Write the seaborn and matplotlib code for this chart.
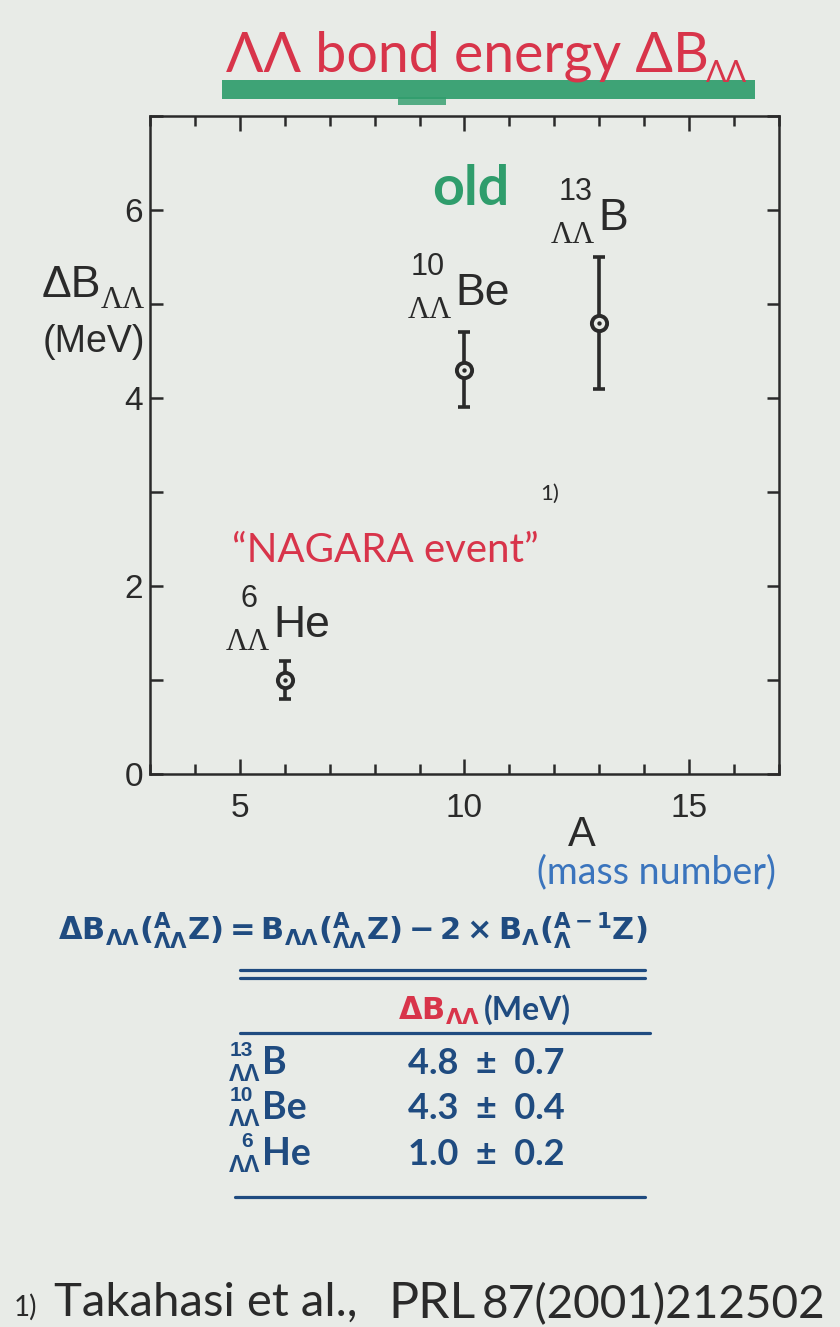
import matplotlib
matplotlib.use("Agg")
import numpy as np
import pandas as pd
import matplotlib.pyplot as plt
import seaborn as sns
from matplotlib.ticker import MultipleLocator
from matplotlib.lines import Line2D
from matplotlib.patches import Rectangle

# Double-Lambda hypernuclei: mass number, bond energy and its error (MeV)
nuclides = ["He", "Be", "B"]
mass_numbers = [6, 10, 13]
bond_energy = [1.0, 4.3, 4.8]
bond_error = [0.2, 0.4, 0.7]

x_ticks = [5, 10, 15]
y_ticks = [0, 2, 4, 6]

W, H = 840, 1327
PAPER = "#e8ebe7"
INK = "#2a2a2a"
RED = "#d8344a"
GREEN = "#2f9d6c"
NAVY = "#1f4b80"
BLUE = "#3a74bd"

sns.set_theme(style="ticks")
plt.rcParams["font.family"] = ["Liberation Sans", "DejaVu Sans"]
plt.rcParams["mathtext.fontset"] = "dejavusans"
plt.rcParams["mathtext.default"] = "bf"

HAND = ["Lato", "DejaVu Sans"]
SERIF = ["Liberation Serif", "DejaVu Serif"]

fig = plt.figure(figsize=(W / 100, H / 100), dpi=100, facecolor=PAPER)


def put(x, y, s, **kw):
    kw.setdefault("va", "baseline")
    kw.setdefault("ha", "left")
    return fig.text(x / W, 1 - y / H, s, **kw)


def hline(x0, x1, y, lw=2.3):
    fig.add_artist(Line2D([x0 / W, x1 / W], [1 - y / H, 1 - y / H],
                          transform=fig.transFigure, color=NAVY, lw=lw,
                          solid_capstyle="round"))


# ---- main axes ----
ax = fig.add_axes([150 / W, 1 - 774 / H, (779 - 150) / W, (774 - 116) / H])
ax.set_facecolor(PAPER)

df = pd.DataFrame({"A": mass_numbers, "dB": bond_energy, "err": bond_error,
                   "name": nuclides})

ax.errorbar(df["A"], df["dB"], yerr=df["err"], fmt="none", ecolor=INK,
            elinewidth=2.6, capsize=4.5, capthick=2.6, zorder=2)
sns.scatterplot(data=df, x="A", y="dB", ax=ax, marker="o", s=120,
                color=PAPER, edgecolor=INK, linewidth=2.8, zorder=3,
                legend=False)
sns.scatterplot(data=df, x="A", y="dB", ax=ax, marker="o", s=10,
                color=INK, linewidth=0, zorder=4, legend=False)

ax.set_xlim(3, 17)
ax.set_ylim(0, 7)
ax.set_xlabel("")
ax.set_ylabel("")
ax.set_xticks(x_ticks)
ax.set_yticks(y_ticks)
ax.xaxis.set_minor_locator(MultipleLocator(1))
ax.yaxis.set_minor_locator(MultipleLocator(1))
ax.tick_params(which="both", direction="in", top=True, right=True,
               width=1.8, color=INK, labelsize=24, labelcolor=INK)
ax.tick_params(axis="x", which="major", length=11, pad=14)
ax.tick_params(axis="x", which="minor", length=7)
ax.tick_params(axis="y", which="both", length=9, pad=5)
for sp in ax.spines.values():
    sp.set_linewidth(1.8)
    sp.set_color(INK)

# axis titles
put(42, 297, "ΔB", fontsize=32, color=INK)
put(101, 308, "ΛΛ", fontsize=22, color=INK, family=SERIF)
put(43, 352, "(MeV)", fontsize=27, color=INK)
put(582, 846, "A", fontsize=30, color=INK, ha="center")
put(537, 883, "(mass number)", fontsize=27, color=BLUE, family=HAND)

# nuclide labels next to each point: (superscript x, symbol x, baseline y)
label_pos = {"He": (258, 273, 637), "Be": (445, 455, 305), "B": (593, 598, 230)}
for name, a in zip(nuclides, mass_numbers):
    sx, mx, by = label_pos[name]
    put(sx, by - 30, str(a), fontsize=22, color=INK, ha="right")
    put(mx - 3, by + 13, "ΛΛ", fontsize=22, color=INK, family=SERIF, ha="right")
    put(mx, by, name, fontsize=32, color=INK)

# hand-written annotations
put(226, 72, "ΛΛ bond energy ΔB", fontsize=40, color=RED, family=HAND)
put(706, 82, "ΛΛ", fontsize=22, color=RED, family=HAND)
fig.add_artist(Rectangle((222 / W, 1 - 99 / H), (755 - 222) / W, 19 / H,
                         transform=fig.transFigure, color=GREEN, alpha=0.92,
                         lw=0))
fig.add_artist(Rectangle((398 / W, 1 - 105 / H), 48 / W, 8 / H,
                         transform=fig.transFigure, color=GREEN, alpha=0.8,
                         lw=0))
put(471, 205, "old", fontsize=40, color=GREEN, family=HAND, ha="center",
    fontweight="bold")
put(232, 562, "\u201cNAGARA event\u201d", fontsize=29, color=RED, family=HAND)
put(540, 500, "1)", fontsize=16, color=INK, family=HAND)

# definition and table
formula = (r"$\Delta B_{\Lambda\Lambda}({}^{A}_{\Lambda\Lambda}Z) = "
           r"B_{\Lambda\Lambda}({}^{A}_{\Lambda\Lambda}Z) - 2\times "
           r"B_{\Lambda}({}^{A-1}_{\Lambda}Z)$")
put(58, 940, formula, fontsize=22, color=NAVY)

hline(240, 645, 970)
hline(240, 645, 978)
put(398, 1020, r"$\Delta B_{\Lambda\Lambda}$", fontsize=22, color=RED)
put(484, 1020, "(MeV)", fontsize=23, color=NAVY, family=HAND,
    fontweight="bold")
hline(240, 650, 1033)

rows = list(zip(nuclides, mass_numbers, bond_energy, bond_error))[::-1]
row_y = [1074, 1119, 1165]
for (name, a, v, e), y in zip(rows, row_y):
    put(253, y - 18, str(a), fontsize=15, color=NAVY, ha="right",
        fontweight="bold")
    put(229, y + 7, "ΛΛ", fontsize=17, color=NAVY, fontweight="bold")
    put(262, y, name, fontsize=27, color=NAVY, family=HAND, fontweight="bold")
    put(486, y, f"{v:.1f}  \u00b1  {e:.1f}", fontsize=26, color=NAVY,
        family=HAND, fontweight="bold", ha="center")
hline(235, 645, 1197)

# reference
put(14, 1316, "1)", fontsize=20, color=INK, family=HAND)
put(54, 1316, "Takahasi et al.,", fontsize=34, color=INK, family=HAND)
put(388, 1318, "PRL", fontsize=36, color=INK, family=HAND)
put(482, 1318, "87(2001)212502", fontsize=33, color=INK, family=HAND)

fig.savefig("out.png", dpi=100, facecolor=PAPER)
